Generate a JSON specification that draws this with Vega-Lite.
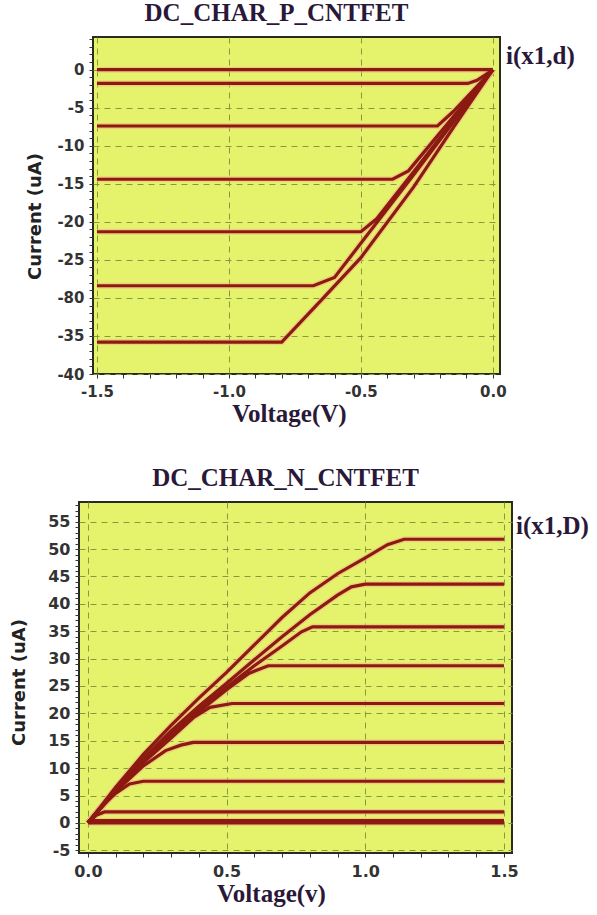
{
  "$schema": "https://vega.github.io/schema/vega-lite/v6.json",
  "background": "white",
  "padding": {"left": 9, "top": 0, "right": 0, "bottom": 0},
  "spacing": 38,
  "center": true,
  "datasets": {
    "p": [
      {"trace": "i(x1,d)", "curve": "c0", "V": -1.5, "I": 0}, {"trace": "i(x1,d)", "curve": "c0", "V": 0, "I": 0},
      {"trace": "i(x1,d)", "curve": "c1", "V": -1.5, "I": -1.8}, {"trace": "i(x1,d)", "curve": "c1", "V": -0.095, "I": -1.8}, {"trace": "i(x1,d)", "curve": "c1", "V": -0.06, "I": -1.4}, {"trace": "i(x1,d)", "curve": "c1", "V": 0, "I": 0},
      {"trace": "i(x1,d)", "curve": "c2", "V": -1.5, "I": -7.4}, {"trace": "i(x1,d)", "curve": "c2", "V": -0.21, "I": -7.4}, {"trace": "i(x1,d)", "curve": "c2", "V": -0.15, "I": -5.5}, {"trace": "i(x1,d)", "curve": "c2", "V": 0, "I": 0},
      {"trace": "i(x1,d)", "curve": "c3", "V": -1.5, "I": -14.4}, {"trace": "i(x1,d)", "curve": "c3", "V": -0.38, "I": -14.4}, {"trace": "i(x1,d)", "curve": "c3", "V": -0.32, "I": -13.3}, {"trace": "i(x1,d)", "curve": "c3", "V": -0.15, "I": -6.2}, {"trace": "i(x1,d)", "curve": "c3", "V": 0, "I": 0},
      {"trace": "i(x1,d)", "curve": "c4", "V": -1.5, "I": -21.3}, {"trace": "i(x1,d)", "curve": "c4", "V": -0.5, "I": -21.3}, {"trace": "i(x1,d)", "curve": "c4", "V": -0.44, "I": -19.6}, {"trace": "i(x1,d)", "curve": "c4", "V": -0.3, "I": -13.4}, {"trace": "i(x1,d)", "curve": "c4", "V": 0, "I": 0},
      {"trace": "i(x1,d)", "curve": "c5", "V": -1.5, "I": -28.4}, {"trace": "i(x1,d)", "curve": "c5", "V": -0.68, "I": -28.4}, {"trace": "i(x1,d)", "curve": "c5", "V": -0.6, "I": -27.3}, {"trace": "i(x1,d)", "curve": "c5", "V": -0.3, "I": -13.8}, {"trace": "i(x1,d)", "curve": "c5", "V": 0, "I": 0},
      {"trace": "i(x1,d)", "curve": "c6", "V": -1.5, "I": -35.8}, {"trace": "i(x1,d)", "curve": "c6", "V": -0.8, "I": -35.8}, {"trace": "i(x1,d)", "curve": "c6", "V": -0.65, "I": -30.3}, {"trace": "i(x1,d)", "curve": "c6", "V": -0.5, "I": -24.7}, {"trace": "i(x1,d)", "curve": "c6", "V": -0.3, "I": -15.4}, {"trace": "i(x1,d)", "curve": "c6", "V": -0.15, "I": -7.6}, {"trace": "i(x1,d)", "curve": "c6", "V": 0, "I": 0}
    ],
    "n": [
      {"trace": "i(x1,D)", "curve": "n0", "V": 0, "I": 0}, {"trace": "i(x1,D)", "curve": "n0", "V": 1.5, "I": 0},
      {"trace": "i(x1,D)", "curve": "n1", "V": 0, "I": 0}, {"trace": "i(x1,D)", "curve": "n1", "V": 0.02, "I": 0.4}, {"trace": "i(x1,D)", "curve": "n1", "V": 1.5, "I": 0.4},
      {"trace": "i(x1,D)", "curve": "n2", "V": 0, "I": 0}, {"trace": "i(x1,D)", "curve": "n2", "V": 0.03, "I": 1.4}, {"trace": "i(x1,D)", "curve": "n2", "V": 0.06, "I": 2.0}, {"trace": "i(x1,D)", "curve": "n2", "V": 1.5, "I": 2.0},
      {"trace": "i(x1,D)", "curve": "n3", "V": 0, "I": 0}, {"trace": "i(x1,D)", "curve": "n3", "V": 0.05, "I": 3}, {"trace": "i(x1,D)", "curve": "n3", "V": 0.1, "I": 5.4}, {"trace": "i(x1,D)", "curve": "n3", "V": 0.15, "I": 7.1}, {"trace": "i(x1,D)", "curve": "n3", "V": 0.2, "I": 7.6}, {"trace": "i(x1,D)", "curve": "n3", "V": 1.5, "I": 7.6},
      {"trace": "i(x1,D)", "curve": "n4", "V": 0, "I": 0}, {"trace": "i(x1,D)", "curve": "n4", "V": 0.1, "I": 5.7}, {"trace": "i(x1,D)", "curve": "n4", "V": 0.2, "I": 10.4}, {"trace": "i(x1,D)", "curve": "n4", "V": 0.28, "I": 13.2}, {"trace": "i(x1,D)", "curve": "n4", "V": 0.335, "I": 14.2}, {"trace": "i(x1,D)", "curve": "n4", "V": 0.38, "I": 14.7}, {"trace": "i(x1,D)", "curve": "n4", "V": 1.5, "I": 14.7},
      {"trace": "i(x1,D)", "curve": "n5", "V": 0, "I": 0}, {"trace": "i(x1,D)", "curve": "n5", "V": 0.1, "I": 5.9}, {"trace": "i(x1,D)", "curve": "n5", "V": 0.2, "I": 11}, {"trace": "i(x1,D)", "curve": "n5", "V": 0.3, "I": 15.5}, {"trace": "i(x1,D)", "curve": "n5", "V": 0.38, "I": 19.2}, {"trace": "i(x1,D)", "curve": "n5", "V": 0.44, "I": 21.1}, {"trace": "i(x1,D)", "curve": "n5", "V": 0.52, "I": 21.8}, {"trace": "i(x1,D)", "curve": "n5", "V": 1.5, "I": 21.8},
      {"trace": "i(x1,D)", "curve": "n6", "V": 0, "I": 0}, {"trace": "i(x1,D)", "curve": "n6", "V": 0.1, "I": 6}, {"trace": "i(x1,D)", "curve": "n6", "V": 0.2, "I": 11.3}, {"trace": "i(x1,D)", "curve": "n6", "V": 0.3, "I": 16}, {"trace": "i(x1,D)", "curve": "n6", "V": 0.4, "I": 20.3}, {"trace": "i(x1,D)", "curve": "n6", "V": 0.5, "I": 24.3}, {"trace": "i(x1,D)", "curve": "n6", "V": 0.58, "I": 27.3}, {"trace": "i(x1,D)", "curve": "n6", "V": 0.65, "I": 28.7}, {"trace": "i(x1,D)", "curve": "n6", "V": 1.5, "I": 28.7},
      {"trace": "i(x1,D)", "curve": "n7", "V": 0, "I": 0}, {"trace": "i(x1,D)", "curve": "n7", "V": 0.1, "I": 6}, {"trace": "i(x1,D)", "curve": "n7", "V": 0.2, "I": 11.5}, {"trace": "i(x1,D)", "curve": "n7", "V": 0.3, "I": 16.3}, {"trace": "i(x1,D)", "curve": "n7", "V": 0.4, "I": 20.7}, {"trace": "i(x1,D)", "curve": "n7", "V": 0.5, "I": 24.8}, {"trace": "i(x1,D)", "curve": "n7", "V": 0.6, "I": 28.7}, {"trace": "i(x1,D)", "curve": "n7", "V": 0.7, "I": 32.3}, {"trace": "i(x1,D)", "curve": "n7", "V": 0.77, "I": 34.9}, {"trace": "i(x1,D)", "curve": "n7", "V": 0.81, "I": 35.8}, {"trace": "i(x1,D)", "curve": "n7", "V": 1.5, "I": 35.8},
      {"trace": "i(x1,D)", "curve": "n8", "V": 0, "I": 0}, {"trace": "i(x1,D)", "curve": "n8", "V": 0.1, "I": 6.2}, {"trace": "i(x1,D)", "curve": "n8", "V": 0.2, "I": 11.8}, {"trace": "i(x1,D)", "curve": "n8", "V": 0.3, "I": 16.8}, {"trace": "i(x1,D)", "curve": "n8", "V": 0.4, "I": 21.3}, {"trace": "i(x1,D)", "curve": "n8", "V": 0.5, "I": 25.5}, {"trace": "i(x1,D)", "curve": "n8", "V": 0.6, "I": 29.8}, {"trace": "i(x1,D)", "curve": "n8", "V": 0.7, "I": 34}, {"trace": "i(x1,D)", "curve": "n8", "V": 0.8, "I": 38}, {"trace": "i(x1,D)", "curve": "n8", "V": 0.9, "I": 41.6}, {"trace": "i(x1,D)", "curve": "n8", "V": 0.95, "I": 43.1}, {"trace": "i(x1,D)", "curve": "n8", "V": 1.0, "I": 43.6}, {"trace": "i(x1,D)", "curve": "n8", "V": 1.5, "I": 43.6},
      {"trace": "i(x1,D)", "curve": "n9", "V": 0, "I": 0}, {"trace": "i(x1,D)", "curve": "n9", "V": 0.05, "I": 3.2}, {"trace": "i(x1,D)", "curve": "n9", "V": 0.1, "I": 6.5}, {"trace": "i(x1,D)", "curve": "n9", "V": 0.2, "I": 12.5}, {"trace": "i(x1,D)", "curve": "n9", "V": 0.3, "I": 17.8}, {"trace": "i(x1,D)", "curve": "n9", "V": 0.4, "I": 22.8}, {"trace": "i(x1,D)", "curve": "n9", "V": 0.5, "I": 27.5}, {"trace": "i(x1,D)", "curve": "n9", "V": 0.6, "I": 32.5}, {"trace": "i(x1,D)", "curve": "n9", "V": 0.7, "I": 37.5}, {"trace": "i(x1,D)", "curve": "n9", "V": 0.8, "I": 42}, {"trace": "i(x1,D)", "curve": "n9", "V": 0.9, "I": 45.5}, {"trace": "i(x1,D)", "curve": "n9", "V": 1.0, "I": 48.4}, {"trace": "i(x1,D)", "curve": "n9", "V": 1.08, "I": 50.8}, {"trace": "i(x1,D)", "curve": "n9", "V": 1.14, "I": 51.8}, {"trace": "i(x1,D)", "curve": "n9", "V": 1.5, "I": 51.8}
    ]
  },
  "vconcat": [
    {
      "width": 407,
      "height": 337,
      "title": {"text": "DC_CHAR_P_CNTFET", "dx": -20},
      "data": {"name": "p"},
      "encoding": {
        "x": {
          "field": "V", "type": "quantitative",
          "scale": {"domain": [-1.515, 0.027], "nice": false, "zero": false},
          "axis": {
            "title": "Voltage(V)",
            "values": [-1.5, -1.4, -1.3, -1.2, -1.1, -1, -0.9, -0.8, -0.7, -0.6, -0.5, -0.4, -0.3, -0.2, -0.1, 0],
            "labelExpr": "abs(datum.value*2 - round(datum.value*2)) < 0.001 ? replace(format(datum.value, '.1f'), '\u2212', '-') : ''",
            "gridOpacity": {"condition": {"test": "abs(datum.value*2 - round(datum.value*2)) < 0.001", "value": 1}, "value": 0},
            "labelFontSize": 15,
            "titleX": 196, "titleY": 47, "titleBaseline": "alphabetic"
          }
        },
        "y": {
          "field": "I", "type": "quantitative",
          "scale": {"domain": [-40, 4.3], "nice": false, "zero": false},
          "axis": {
            "title": "Current (uA)",
            "values": [-40, -39, -38, -37, -36, -35, -34, -33, -32, -31, -30, -29, -28, -27, -26, -25, -24, -23, -22, -21, -20, -19, -18, -17, -16, -15, -14, -13, -12, -11, -10, -9, -8, -7, -6, -5, -4, -3, -2, -1, 0, 1, 2, 3, 4],
            "labelExpr": "datum.value % 5 === 0 ? (datum.value === -30 ? '-80' : '' + datum.value) : ''",
            "gridOpacity": {"condition": {"test": "datum.value % 5 === 0", "value": 1}, "value": 0},
            "labelFontSize": 15,
            "titleX": -49, "titleY": 179
          }
        },
        "detail": {"field": "curve"}
      },
      "layer": [
        {"mark": {"type": "line", "strokeWidth": 6, "color": "#f3b489", "opacity": 0.6}},
        {
          "mark": {"type": "line", "strokeWidth": 3.2},
          "encoding": {
            "color": {
              "field": "trace", "type": "nominal",
              "scale": {"range": ["#8b1a10"]},
              "legend": {"orient": "none", "legendX": 388, "legendY": 6}
            }
          }
        }
      ]
    },
    {
      "width": 433,
      "height": 351,
      "title": {"text": "DC_CHAR_N_CNTFET", "dx": -10},
      "data": {"name": "n"},
      "encoding": {
        "x": {
          "field": "V", "type": "quantitative",
          "scale": {"domain": [-0.032, 1.529], "nice": false, "zero": false},
          "axis": {
            "title": "Voltage(v)",
            "values": [0, 0.1, 0.2, 0.3, 0.4, 0.5, 0.6, 0.7, 0.8, 0.9, 1, 1.1, 1.2, 1.3, 1.4, 1.5],
            "labelExpr": "abs(datum.value*2 - round(datum.value*2)) < 0.001 ? format(datum.value, '.1f') : ''",
            "gridOpacity": {"condition": {"test": "abs(datum.value*2 - round(datum.value*2)) < 0.001", "value": 1}, "value": 0},
            "labelFontSize": 16,
            "titleX": 192, "titleY": 48, "titleBaseline": "alphabetic"
          }
        },
        "y": {
          "field": "I", "type": "quantitative",
          "scale": {"domain": [-5.5, 58.6], "nice": false, "zero": false},
          "axis": {
            "title": "Current (uA)",
            "values": [-5, -4, -3, -2, -1, 0, 1, 2, 3, 4, 5, 6, 7, 8, 9, 10, 11, 12, 13, 14, 15, 16, 17, 18, 19, 20, 21, 22, 23, 24, 25, 26, 27, 28, 29, 30, 31, 32, 33, 34, 35, 36, 37, 38, 39, 40, 41, 42, 43, 44, 45, 46, 47, 48, 49, 50, 51, 52, 53, 54, 55, 56, 57, 58],
            "labelExpr": "datum.value % 5 === 0 ? '' + datum.value : ''",
            "gridOpacity": {"condition": {"test": "datum.value % 5 === 0", "value": 1}, "value": 0},
            "labelFontSize": 16,
            "titleX": -51, "titleY": 180
          }
        },
        "detail": {"field": "curve"}
      },
      "layer": [
        {"mark": {"type": "line", "strokeWidth": 6, "color": "#f3b489", "opacity": 0.6}},
        {
          "mark": {"type": "line", "strokeWidth": 3.2},
          "encoding": {
            "color": {
              "field": "trace", "type": "nominal",
              "scale": {"range": ["#8b1a10"]},
              "legend": {"orient": "none", "legendX": 412, "legendY": 11}
            }
          }
        }
      ]
    }
  ],
  "resolve": {"scale": {"color": "independent"}, "legend": {"color": "independent"}},
  "config": {
    "view": {"fill": "#e5f36c", "stroke": "#2a2a20", "strokeWidth": 2},
    "axis": {
      "domain": false,
      "grid": true,
      "gridColor": "#849a3e",
      "gridDash": [6, 5],
      "gridWidth": 1,
      "tickColor": "#333333",
      "tickSize": 4,
      "tickWidth": 1,
      "labelFont": "DejaVu Sans",
      "labelFontWeight": "bold",
      "labelColor": "#333333",
      "labelOverlap": false,
      "labelFlush": false,
      "labelBound": false
    },
    "axisX": {"titleFont": "Liberation Serif", "titleFontSize": 25, "titleFontWeight": "bold", "titleColor": "#2a1838", "labelPadding": 6},
    "axisY": {"titleFont": "DejaVu Sans", "titleFontSize": 18, "titleFontWeight": "bold", "titleColor": "#222222", "labelPadding": 5},
    "title": {"font": "Liberation Serif", "fontSize": 25, "fontWeight": "bold", "color": "#2a1838", "anchor": "middle", "frame": "group", "offset": 6},
    "legend": {
      "title": null,
      "symbolOpacity": 0,
      "symbolSize": 0,
      "symbolStrokeWidth": 0,
      "labelOffset": 0,
      "padding": 0,
      "labelFont": "Liberation Serif",
      "labelFontSize": 25,
      "labelFontWeight": "bold",
      "labelColor": "#2a1838",
      "labelLimit": 200
    }
  }
}
